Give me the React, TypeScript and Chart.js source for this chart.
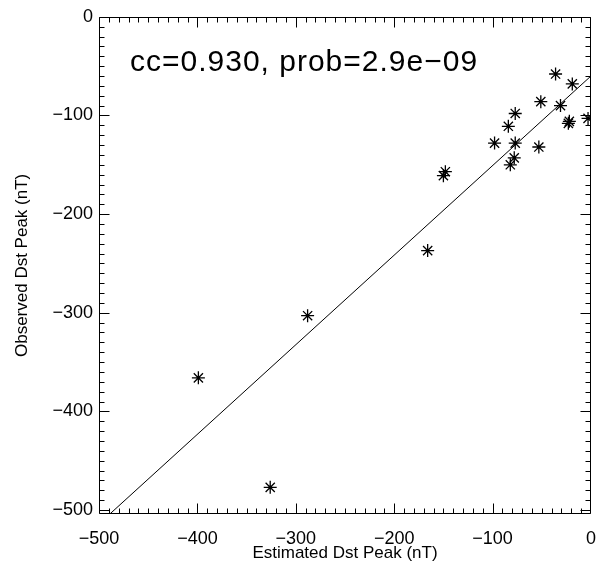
import React, { useEffect, useRef } from "react";
import { Chart, registerables } from "chart.js";

Chart.register(...registerables);

// Estimated vs observed Dst peaks (nT)
const estimated = [-399, -288, -326, -166, -148, -150, -98, -84, -77, -77, -82, -78, -53, -51, -36, -31, -23, -22, -19, -3];
const observed = [-366, -303, -477, -237, -157, -161, -128, -111, -98, -128, -150, -143, -132, -86, -58, -90, -108, -106, -68, -103];

const fitSlope = 0.908;
const fitIntercept = -60;

const xTicks = [-500, -400, -300, -200, -100, 0];
const yTicks = [-500, -400, -300, -200, -100, 0];
const xRange = [-500, 0];
const yRange = [-504, 0];
const minorStep = 10;
const majorStep = 100;

const annotation = "cc=0.930, prob=2.9e-09";
const xTitle = "Estimated Dst Peak (nT)";
const yTitle = "Observed Dst Peak (nT)";

const FONT = "'Liberation Sans', Arial, sans-serif";

const fmt = (v: number) => (v < 0 ? "\u2212" + Math.abs(v) : String(v));

const framePlugin = {
  id: "frame",
  afterDraw(chart: any) {
    const { ctx, chartArea, scales } = chart;
    const { left, right, top, bottom } = chartArea;
    const xs = scales.x;
    const ys = scales.y;
    ctx.save();
    ctx.strokeStyle = "#000";
    ctx.lineWidth = 1;
    const L = Math.round(left) + 0.5;
    const R = Math.round(right) - 0.5;
    const T = Math.round(top) + 0.5;
    const B = Math.round(bottom) - 0.5;
    ctx.beginPath();
    ctx.rect(L, T, R - L, B - T);
    ctx.stroke();
    ctx.beginPath();
    for (let v = xRange[0]; v <= xRange[1]; v += minorStep) {
      const px = Math.min(Math.round(xs.getPixelForValue(v)) + 0.5, R);
      const len = v % majorStep === 0 ? 10 : 5;
      ctx.moveTo(px, B);
      ctx.lineTo(px, B - len);
      ctx.moveTo(px, T);
      ctx.lineTo(px, T + len);
    }
    for (let v = -500; v <= yRange[1]; v += minorStep) {
      const py = Math.max(Math.round(ys.getPixelForValue(v)) + 0.5, T);
      const len = v % majorStep === 0 ? 10 : 5;
      ctx.moveTo(L, py);
      ctx.lineTo(L + len, py);
      ctx.moveTo(R, py);
      ctx.lineTo(R - len, py);
    }
    ctx.stroke();
    ctx.fillStyle = "#000";
    ctx.font = `30px ${FONT}`;
    try {
      (ctx as any).letterSpacing = "1px";
    } catch (e) {}
    ctx.textAlign = "left";
    ctx.textBaseline = "alphabetic";
    ctx.fillText(annotation.replace(/-/g, "\u2212"), left + 31, top + 54);
    ctx.restore();
  },
};

export default function App() {
  const ref = useRef<HTMLCanvasElement>(null);
  useEffect(() => {
    document.body.style.margin = "0";
    const canvas = ref.current!;
    const points = estimated.map((x, i) => ({ x, y: observed[i] }));
    const fit = xRange.map((x) => ({ x, y: fitSlope * x + fitIntercept }));
    const chart = new Chart(canvas, {
      type: "scatter",
      data: {
        datasets: [
          {
            data: points,
            pointStyle: "star",
            pointRadius: 6.5,
            borderColor: "#000",
            backgroundColor: "#000",
            pointBorderWidth: 1.3,
          } as any,
          {
            type: "line",
            data: fit,
            showLine: true,
            borderColor: "#000",
            borderWidth: 1,
            pointRadius: 0,
            fill: false,
          } as any,
        ],
      },
      options: {
        animation: false,
        responsive: false,
        layout: { padding: { top: 10, right: 9, left: 0, bottom: 0 } },
        plugins: { legend: { display: false }, tooltip: { enabled: false } },
        scales: {
          x: {
            type: "linear",
            min: xRange[0],
            max: xRange[1],
            afterBuildTicks: (s: any) => {
              s.ticks = xTicks.map((v) => ({ value: v }));
            },
            afterFit: (s: any) => {
              s.height = 56;
            },
            grid: { display: false, drawTicks: false },
            border: { display: false },
            ticks: {
              color: "#000",
              font: { family: FONT, size: 18 },
              padding: 14,
              maxRotation: 0,
              autoSkip: false,
              callback: (v: any) => fmt(Number(v)),
            },
            title: {
              display: true,
              text: xTitle,
              color: "#000",
              font: { family: FONT, size: 17 },
              padding: { top: 0, bottom: 6 },
            },
          },
          y: {
            type: "linear",
            min: yRange[0],
            max: yRange[1],
            afterBuildTicks: (s: any) => {
              s.ticks = yTicks.map((v) => ({ value: v }));
            },
            afterFit: (s: any) => {
              s.width = 99;
            },
            grid: { display: false, drawTicks: false },
            border: { display: false },
            ticks: {
              color: "#000",
              font: { family: FONT, size: 18 },
              padding: 6,
              autoSkip: false,
              callback: (v: any) => fmt(Number(v)),
            },
            title: {
              display: true,
              text: yTitle,
              color: "#000",
              font: { family: FONT, size: 17 },
              padding: { top: 12, bottom: 0 },
            },
          },
        },
      },
      plugins: [framePlugin],
    });
    return () => chart.destroy();
  }, []);
  return (
    <div style={{ width: 610, height: 570 }}>
      <canvas ref={ref} width={610} height={570} />
    </div>
  );
}
